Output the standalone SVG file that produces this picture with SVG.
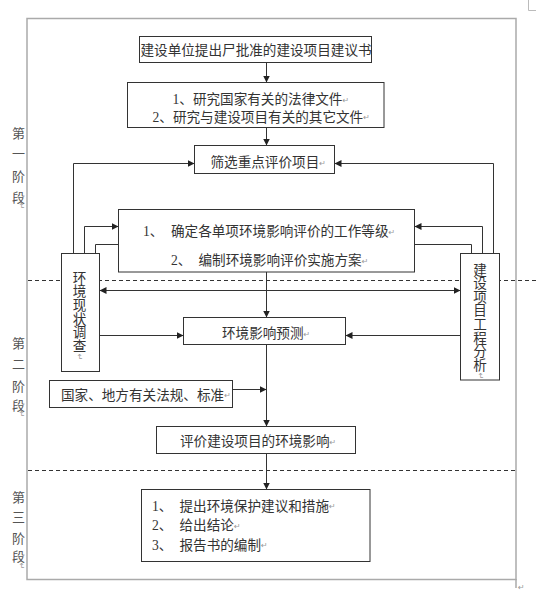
<svg xmlns="http://www.w3.org/2000/svg" width="536" height="605" viewBox="0 0 536 605">
<defs>
<style>
.box{fill:#fff;stroke:#333;stroke-width:1}
.t{font-family:"Liberation Serif","Noto Sans CJK SC",serif;font-size:13.6px;fill:#333;dominant-baseline:central}
.v{text-anchor:middle}
.pm{font-family:"DejaVu Sans",sans-serif;font-size:8px;fill:#999}
.conn{stroke:#333;stroke-width:1;fill:none}
.dash{stroke:#333;stroke-width:1;stroke-dasharray:4 3;fill:none}
.frame{fill:none;stroke:#aaa;stroke-width:1.5}
.stage{font-family:"Noto Sans CJK SC",sans-serif;font-size:13px;fill:#555;text-anchor:middle;dominant-baseline:central}
</style>
<marker id="ah" markerUnits="userSpaceOnUse" markerWidth="8" markerHeight="8" refX="7" refY="3.5" orient="auto-start-reverse">
<path d="M0,0 L7,3.5 L0,7 z" fill="#222"/>
</marker>
</defs>
<rect width="536" height="605" fill="#fff"/>
<g id="frame">
<rect class="frame" x="27" y="18.5" width="489" height="561"/>
<path d="M516,579 V588" stroke="#aaa" stroke-width="1.5"/>
<path d="M528.5,0 V10.5 H536" stroke="#bbb" stroke-width="1" fill="none"/>
<text class="pm" x="518" y="590">↵</text>
</g>
<g id="dividers">
<path class="dash" d="M28,280.5 H536"/>
<path class="dash" d="M28,470.5 H515"/>
</g>
<g id="stages">
<text class="stage" x="18.5" y="132">第</text>
<text class="stage" x="18.5" y="152">一</text>
<text class="stage" x="18.5" y="175">阶</text>
<text class="stage" x="18.5" y="196">段</text>
<text class="pm" x="18.5" y="206" text-anchor="middle" transform="rotate(90 18.5 206)">↵</text>
<text class="stage" x="18.5" y="342">第</text>
<text class="stage" x="18.5" y="363">二</text>
<text class="stage" x="18.5" y="385">阶</text>
<text class="stage" x="18.5" y="404">段</text>
<text class="pm" x="18.5" y="414" text-anchor="middle" transform="rotate(90 18.5 414)">↵</text>
<text class="stage" x="18.5" y="496">第</text>
<text class="stage" x="18.5" y="516">三</text>
<text class="stage" x="18.5" y="537">阶</text>
<text class="stage" x="18.5" y="555">段</text>
<text class="pm" x="18.5" y="566" text-anchor="middle" transform="rotate(90 18.5 566)">↵</text>
</g>
<g id="connectors">
<path class="conn" marker-end="url(#ah)" d="M266.5,62.5 V82.5"/>
<path class="conn" marker-end="url(#ah)" d="M266.5,127.5 V145.5"/>
<path class="conn" marker-end="url(#ah)" d="M73.5,253.5 V163.5 H194.5"/>
<path class="conn" marker-end="url(#ah)" d="M84.5,253.5 V226.5 H118.5"/>
<path class="conn" d="M95.5,253.5 V244.5 H118.5"/>
<path class="conn" marker-end="url(#ah)" d="M493.5,253.5 V163.5 H334.5"/>
<path class="conn" marker-end="url(#ah)" d="M482.5,253.5 V226.5 H414.5"/>
<path class="conn" d="M471.5,253.5 V244.5 H414.5"/>
<path class="conn" marker-start="url(#ah)" marker-end="url(#ah)" d="M99.5,290.5 H460.5"/>
<path class="conn" marker-end="url(#ah)" d="M266.5,272 V317.5"/>
<path class="conn" marker-end="url(#ah)" d="M99.5,335.5 H183.5"/>
<path class="conn" marker-end="url(#ah)" d="M460.5,335.5 H345.5"/>
<path class="conn" marker-end="url(#ah)" d="M266.5,344.5 V426.5"/>
<path class="conn" marker-end="url(#ah)" d="M232.5,389.5 H266.5"/>
<path class="conn" marker-end="url(#ah)" d="M266.5,453.5 V489.5"/>
</g>
<g id="n1">
<rect class="box" x="139.5" y="36.5" width="232" height="26"/>
<text class="t" x="140.5" y="50">建设单位提出尸批准的建设项目建议书</text>
</g>
<g id="n2">
<rect class="box" x="127.5" y="82.5" width="256.5" height="45"/>
<text class="t" x="172.5" y="99.5">1、研究国家有关的法律文件<tspan class="pm">↵</tspan></text>
<text class="t" x="152.5" y="117">2、研究与建设项目有关的其它文件<tspan class="pm">↵</tspan></text>
</g>
<g id="n3">
<rect class="box" x="194.5" y="145.5" width="140" height="28"/>
<text class="t" x="210.5" y="162.5">筛选重点评价项目<tspan class="pm">↵</tspan></text>
</g>
<g id="n4">
<rect class="box" x="118.5" y="209.5" width="296" height="62.5"/>
<text class="t" x="143" y="231.5">1、</text>
<text class="t" x="171" y="231.5">确定各单项环境影响评价的工作等级<tspan class="pm">↵</tspan></text>
<text class="t" x="171" y="260.5">2、</text>
<text class="t" x="198.5" y="260.5">编制环境影响评价实施方案<tspan class="pm">↵</tspan></text>
</g>
<g id="n-survey">
<rect class="box" x="61.5" y="253.5" width="38" height="118"/>
<text class="t v" x="79.5" y="278">环</text>
<text class="t v" x="79.5" y="291.7">境</text>
<text class="t v" x="79.5" y="305.4">现</text>
<text class="t v" x="79.5" y="319.1">状</text>
<text class="t v" x="79.5" y="332.8">调</text>
<text class="t v" x="79.5" y="346.5">查</text>
<text class="pm" x="79.5" y="357" text-anchor="middle" dominant-baseline="central" transform="rotate(90 79.5 357)">↵</text>
</g>
<g id="n-analysis">
<rect class="box" x="460.5" y="253.5" width="39" height="126.5"/>
<text class="t v" x="480" y="270">建</text>
<text class="t v" x="480" y="283.6">设</text>
<text class="t v" x="480" y="297.2">项</text>
<text class="t v" x="480" y="310.8">目</text>
<text class="t v" x="480" y="324.4">工</text>
<text class="t v" x="480" y="338">程</text>
<text class="t v" x="480" y="351.6">分</text>
<text class="t v" x="480" y="365.2">析</text>
<text class="pm" x="480" y="376" text-anchor="middle" dominant-baseline="central" transform="rotate(90 480 376)">↵</text>
</g>
<g id="n5">
<rect class="box" x="183.5" y="317.5" width="162" height="27"/>
<text class="t" x="222" y="333.5">环境影响预测<tspan class="pm">↵</tspan></text>
</g>
<g id="n-law">
<rect class="box" x="49.5" y="380.5" width="183" height="27"/>
<text class="t" x="61" y="395">国家、地方有关法规、标准<tspan class="pm">↵</tspan></text>
</g>
<g id="n6">
<rect class="box" x="156.5" y="426.5" width="199" height="27"/>
<text class="t" x="180" y="441.5">评价建设项目的环境影响<tspan class="pm">↵</tspan></text>
</g>
<g id="n7">
<rect class="box" x="141.5" y="489.5" width="228.5" height="72"/>
<text class="t" x="152" y="506">1、</text>
<text class="t" x="179.5" y="506">提出环境保护建议和措施<tspan class="pm">↵</tspan></text>
<text class="t" x="152" y="525.5">2、</text>
<text class="t" x="179.5" y="525.5">给出结论<tspan class="pm">↵</tspan></text>
<text class="t" x="152" y="545">3、</text>
<text class="t" x="179.5" y="545">报告书的编制<tspan class="pm">↵</tspan></text>
</g>
</svg>
